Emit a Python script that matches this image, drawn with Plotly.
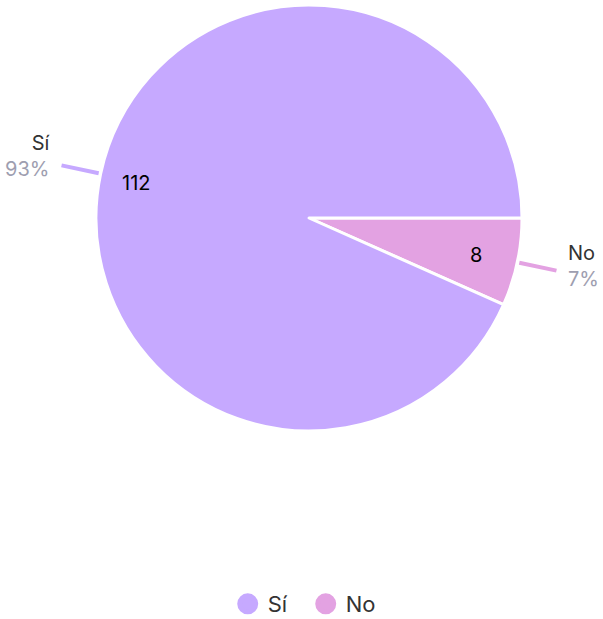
import math
import plotly.graph_objects as go

labels = ["Sí", "No"]
values = [112, 8]
colors = ["#C6A9FF", "#E3A2E2"]

W, H = 603, 625  # page shows the top 619 px
cx, cy, R = 309, 218, 213  # pie layout in pixels

total = sum(values)
fig = go.Figure()
fig.add_trace(go.Pie(
    labels=labels[::-1], values=values[::-1], sort=False, direction="counterclockwise",
    rotation=90, textinfo="none", hoverinfo="label+value+percent",
    marker=dict(colors=colors[::-1], line=dict(color="white", width=3)),
    domain=dict(x=[(cx - R) / W, (cx + R) / W], y=[1 - (cy + R) / H, 1 - (cy - R) / H]),
    showlegend=False,
))

for lab, col in zip(labels, colors):
    fig.add_trace(go.Scatter(x=[None], y=[None], mode="markers", name=lab,
                             marker=dict(color=col, size=16, symbol="circle",
                                         line=dict(color=col, width=5))))


def px(r, ang):
    return (cx + r * math.cos(ang)) / W, 1 - (cy - r * math.sin(ang)) / H


annotations, shapes = [], []
start = 0.0
for lab, v, col in zip(labels, values, colors):
    span = v / total * 2 * math.pi
    mid = start + span / 2
    start += span
    pct = round(v / total * 100)
    # inner value label
    x, y = px(R * 0.815, mid)
    annotations.append(dict(x=x, y=y, xref="paper", yref="paper", text=str(v), showarrow=False,
                            xanchor="center", yanchor="middle", xshift=-3, yshift=-1,
                            font=dict(size=20, color="#000000")))
    # leader line
    x0, y0 = px(R + 2, mid)
    x1, y1 = px(R + 40, mid)
    shapes.append(dict(type="line", xref="paper", yref="paper", x0=x0, y0=y0, x1=x1, y1=y1,
                       line=dict(color=col, width=4)))
    right = math.cos(mid) > 0
    x2, y2 = px(R + 50, mid)
    annotations.append(dict(x=x2, y=y2, xref="paper", yref="paper", yshift=7,
                            text=f"<span style='color:#333333'>{lab}</span><br><span style='color:#9E9EB0'>{pct}%</span>",
                            showarrow=False, align="left" if right else "right",
                            xanchor="left" if right else "right", yanchor="middle",
                            font=dict(size=20)))

fig.update_layout(
    width=W, height=H, margin=dict(l=0, r=0, t=0, b=0),
    paper_bgcolor="white", plot_bgcolor="white",
    font=dict(family="Inter, Roboto, sans-serif", color="#333333"),
    xaxis=dict(visible=False), yaxis=dict(visible=False),
    legend=dict(orientation="h", x=0.507, xanchor="center", y=0.0, yanchor="bottom",
                font=dict(size=22, color="#333333"), itemsizing="trace",
                entrywidth=33, entrywidthmode="pixels"),
    annotations=annotations, shapes=shapes,
)
fig.write_html("out.html", config={"displayModeBar": False},
               post_script="document.body.style.margin='0';document.body.style.overflow='hidden';")
